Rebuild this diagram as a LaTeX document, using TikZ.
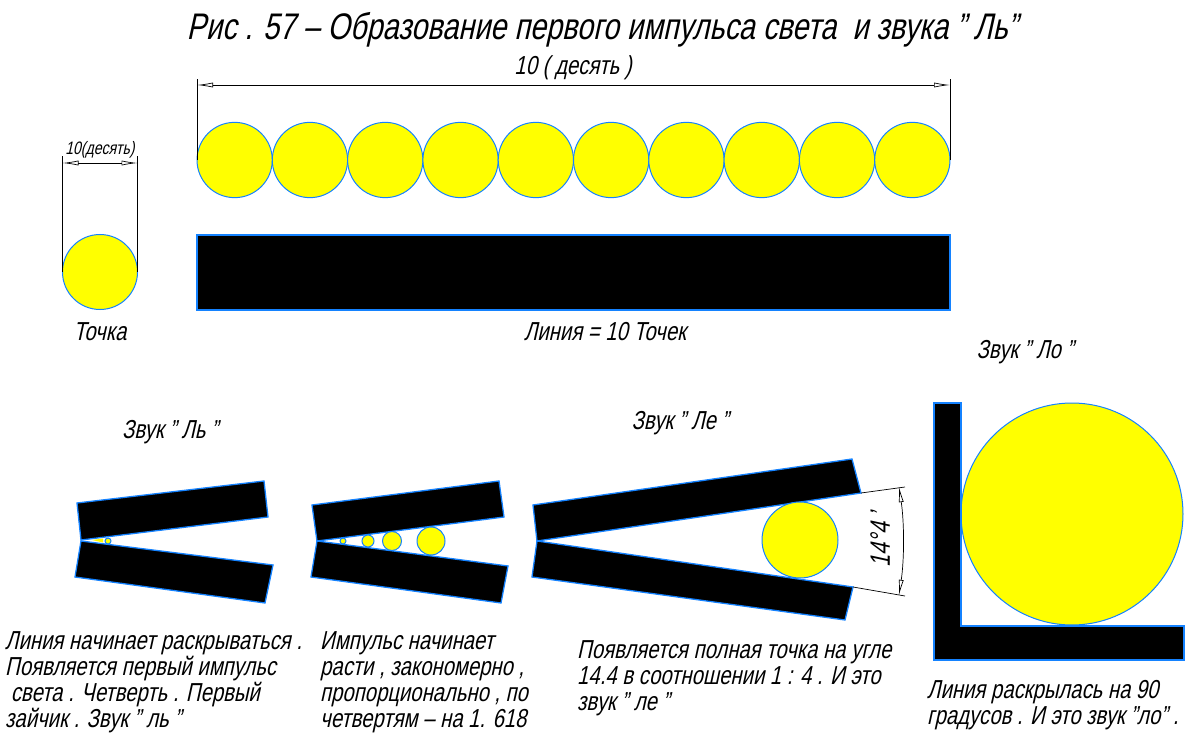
\documentclass[tikz,border=0pt]{standalone}
\usepackage{fontspec}
\setmainfont{Liberation Sans}[FakeSlant=0.22,FakeStretch=0.78]
\usetikzlibrary{arrows.meta}

\definecolor{dotyellow}{RGB}{255,255,0}
\definecolor{rimblue}{RGB}{20,130,255}

\tikzset{
  yellowdot/.style={fill=dotyellow,draw=rimblue,line width=1pt},
  blackbar/.style={fill=black,draw=rimblue,line width=1.3pt,line join=miter},
  dimline/.style={line width=0.7pt},
  dimtips/.style={{Latex[open,length=16pt,width=5pt]}-{Latex[open,length=16pt,width=5pt]}},
  note/.style={font=\fontsize{26}{26}\selectfont,align=left,anchor=north west,inner sep=0pt},
  caption/.style={font=\fontsize{26}{26}\selectfont,inner sep=0pt}
}

\begin{document}
\begin{tikzpicture}[x=1pt,y=-1pt]
  \useasboundingbox (0,0) rectangle (1200,746);

  \node[font=\fontsize{37}{40}\selectfont] (title) at (602,30)
    {Рис . 57 – Образование первого импульса света\ \ и звука " Ль"};

  % tochka
  \draw[yellowdot] (100,272) circle (37.5);
  \coordinate (pt1) at (62.5,272);
  \coordinate (pt2) at (137.5,272);
  \coordinate (pt1t) at (62.5,156);
  \coordinate (pt2t) at (137.5,156);
  \draw[dimline] (pt1) -- (pt1t);
  \draw[dimline] (pt2) -- (pt2t);
  \draw[dimline,dimtips] (62.5,163) -- (137.5,163);
  \node[font=\fontsize{18}{18}\selectfont,inner sep=0pt] (ptlabel) at (100,150) {10(десять)};
  \node[caption] (ptname) at (100,332) {Точка};

  % liniya
  \foreach \i in {0,...,9}
    \draw[yellowdot] ({234.65+75.3*\i},160) circle (37.65);
  \draw[blackbar] (197,235) rectangle (950,310);
  \coordinate (ln1) at (197,160);
  \coordinate (ln2) at (950,160);
  \coordinate (ln1t) at (197,79);
  \coordinate (ln2t) at (950,79);
  \draw[dimline] (ln1) -- (ln1t);
  \draw[dimline] (ln2) -- (ln2t);
  \draw[dimline,dimtips] (197,85) -- (950,85);
  \node[caption] (lnlabel) at (573,68) {10 ( десять )};
  \node[caption] (lnname) at (605,332) {Линия = 10 Точек};

  % zvuk l'
  \node[caption] (zv1) at (170,432) {Звук " Ль "};
  \draw[blackbar] (81,540) -- (77,503) -- (264,481) -- (268,517) -- cycle;
  \draw[blackbar] (81,541) -- (273,565) -- (265,603) -- (75,577) -- cycle;
  \fill[dotyellow] (92,540) -- (103,538.5) -- (103,542.5) -- cycle;
  \draw[yellowdot] (108,541) circle (3);

  % rost
  \draw[blackbar] (317,541) -- (312,505) -- (499,481) -- (504,517) -- cycle;
  \draw[blackbar] (317,541) -- (508,566) -- (501,603) -- (311,577) -- cycle;
  \draw[yellowdot] (343,541) circle (3);
  \draw[yellowdot] (368,541) circle (6);
  \draw[yellowdot] (392,541) circle (9.5);
  \draw[yellowdot] (431,541) circle (14);

  % zvuk le
  \node[caption] (zv2) at (680,423) {Звук " Ле "};
  \draw[blackbar] (537,541) -- (533,505) -- (852,459) -- (861,493) -- cycle;
  \draw[blackbar] (537,541) -- (853,587) -- (845,620) -- (532,577) -- cycle;
  \draw[yellowdot] (800,540) circle (38);
  \coordinate (apex) at (537,541);
  \coordinate (ug1) at (861,493);
  \coordinate (ug2) at (853,587);
  \coordinate (ug1e) at (905,487);
  \coordinate (ug2e) at (905,596);
  \draw[dimline] (ug1) -- (ug1e);
  \draw[dimline] (ug2) -- (ug2e);
  \draw[dimline,dimtips] (apex) ++(-8.6:366) arc[start angle=-8.6,end angle=8.6,radius=366];
  \node[font=\fontsize{28}{28}\selectfont,rotate=90,inner sep=0pt] (ugol) at (880,540) {14°4\,’};

  % zvuk lo
  \node[caption] (zv3) at (1025,352) {Звук " Ло "};
  \draw[yellowdot] (1072,514) circle (111);
  \draw[blackbar] (934,403) -- (961,403) -- (961,626) -- (1184,626) -- (1184,660) -- (934,660) -- cycle;

  % teksty
  \node[note] (t1) at (5,631) {Линия начинает раскрываться .\\Появляется первый импульс\\\ света . Четверть . Первый\\зайчик . Звук " ль "};
  \node[note] (t2) at (320,631) {Импульс начинает\\расти , закономерно ,\\пропорционально , по\\четвертям – на 1. 618};
  \node[note] (t3) at (577,640) {Появляется полная точка на угле\\14.4 в соотношении 1 : 4 . И это\\звук " ле "};
  \node[note] (t4) at (927,680) {Линия раскрылась на 90\\градусов . И это звук "ло" .};
\end{tikzpicture}
\end{document}
